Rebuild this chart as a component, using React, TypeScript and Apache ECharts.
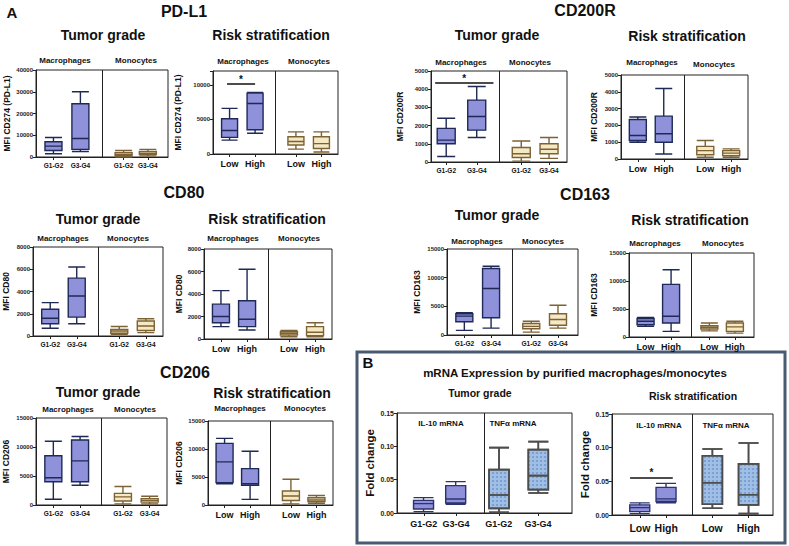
import React, { useEffect, useRef } from "react";
import * as echarts from "echarts";

const FF = '"Liberation Sans", Arial, Helvetica, sans-serif';
const N = 24; // category slots per half-panel; slot N is the divider

const gradeCats = ["G1-G2", "G3-G4"];
const riskCats = ["Low", "High"];

// box values: [min, Q1, median, Q3, max]
const pdl1GradeMac = [[1500, 3000, 5000, 7000, 9000], [2500, 3500, 8500, 24500, 30000]];
const pdl1GradeMono = [[0, 600, 1200, 2000, 3000], [500, 1200, 1800, 2600, 3500]];
const pdl1RiskMac = [[2000, 2400, 3400, 5100, 6600], [3000, 3500, 7300, 8800, 8900]];
const pdl1RiskMono = [[700, 1300, 1800, 2500, 3200], [300, 800, 1500, 2500, 3200]];

const cd200rGradeMac = [[300, 1000, 1200, 1850, 2400], [1350, 1750, 2500, 3400, 4150]];
const cd200rGradeMono = [[50, 250, 450, 800, 1150], [200, 450, 700, 1000, 1350]];
const cd200rRiskMac = [[1000, 1100, 1400, 2350, 2500], [300, 1000, 1500, 2550, 4200]];
const cd200rRiskMono = [[100, 250, 500, 750, 1100], [100, 200, 350, 500, 600]];

const cd80GradeMac = [[700, 1100, 1600, 2400, 3000], [1100, 1700, 3600, 5200, 6200]];
const cd80GradeMono = [[150, 250, 450, 600, 850], [300, 500, 900, 1350, 1550]];
const cd80RiskMac = [[1100, 1450, 2000, 3100, 4300], [800, 1100, 1750, 3400, 6200]];
const cd80RiskMono = [[200, 350, 500, 650, 750], [200, 300, 600, 1100, 1450]];

const cd163GradeMac = [[800, 2300, 3300, 3700, 3900], [1200, 3000, 8100, 11600, 12000]];
const cd163GradeMono = [[500, 1100, 1500, 2000, 2400], [1200, 1700, 2700, 3700, 5200]];
const cd163RiskMac = [[1900, 2200, 2800, 3300, 3500], [1000, 2500, 3700, 9400, 12000]];
const cd163RiskMono = [[1100, 1400, 1700, 2000, 2500], [700, 1000, 1800, 2500, 2800]];

const cd206GradeMac = [[1000, 4000, 4700, 8500, 11000], [3400, 4000, 7600, 11200, 11800]];
const cd206GradeMono = [[200, 700, 1400, 2000, 3200], [200, 500, 800, 1100, 1500]];
const cd206RiskMac = [[3800, 4000, 7700, 11000, 11900], [1000, 3500, 3800, 6500, 9600]];
const cd206RiskMono = [[200, 800, 1600, 2500, 4600], [300, 600, 900, 1300, 1700]];

const il10Grade = [[0.002, 0.006, 0.014, 0.019, 0.023], [0.013, 0.015, 0.021, 0.041, 0.047]];
const tnfGrade = [[0.001, 0.007, 0.027, 0.065, 0.098], [0.03, 0.035, 0.056, 0.095, 0.107]];
const il10Risk = [[0.002, 0.005, 0.011, 0.015, 0.018], [0.018, 0.02, 0.024, 0.041, 0.047]];
const tnfRisk = [[0.01, 0.016, 0.048, 0.088, 0.098], [0.002, 0.015, 0.03, 0.076, 0.107]];

// significance bars (y value)
const sigPdl1Risk = 10100;
const sigCd200rGrade = 4340;
const sigIl10Risk = 0.055;

// tick labels
const ticks40k = [0, 10000, 20000, 30000, 40000];
const ticks10k = [0, 5000, 10000];
const ticks5k = [0, 1000, 2000, 3000, 4000, 5000];
const ticks8k = [0, 2000, 4000, 6000, 8000];
const ticks15k = [0, 5000, 10000, 15000];
const ticksFold = [0, 0.05, 0.1, 0.15];

const macStyle = { color: "#8f91da", borderColor: "#1e2a55", borderWidth: 1.4 };
const monoStyle = { color: "#f5e9c4", borderColor: "#7d6235", borderWidth: 1.4 };
const il10Style = { color: "#8f91da", borderColor: "#2c3470", borderWidth: 1.4 };
const tnfStyle = {
  color: "#9fbfe6",
  borderColor: "#4d4d4d",
  borderWidth: 1.6,
  decal: { symbol: "circle", symbolSize: 1, dashArrayX: 1.5, dashArrayY: 1.5, color: "rgba(40,80,150,0.35)" },
};

type Panel = {
  g: number[]; yMax: number; yInt: number; ticks: number[]; dec: number;
  yName: string; gap: number; cats: string[]; cs: number; cm: number;
  slots: number[]; L: number[][]; R: number[][]; ls: any; rs: any; bw: number;
  yl: number; nf: number; sig?: { v: number; a: number; b: number };
};

const panels: Panel[] = [
  { g: [36, 70, 132, 87], yMax: 40000, yInt: 10000, ticks: ticks40k, dec: 0, yName: "MFI CD274 (PD-L1)", gap: 25, cats: gradeCats, cs: 6.5, cm: 4.5, slots: [6, 16, 7, 16], L: pdl1GradeMac, R: pdl1GradeMono, ls: macStyle, rs: monoStyle, bw: 17, yl: 6, nf: 8.5 },
  { g: [213, 71, 125, 83], yMax: 12000, yInt: 5000, ticks: ticks10k, dec: 0, yName: "MFI CD274 (PD-L1)", gap: 31, cats: riskCats, cs: 9, cm: 5.5, slots: [6, 16, 7, 17], L: pdl1RiskMac, R: pdl1RiskMono, ls: macStyle, rs: monoStyle, bw: 16, yl: 6, nf: 8.5, sig: { v: sigPdl1Risk, a: 5, b: 16 } },
  { g: [431, 71, 136, 91], yMax: 5000, yInt: 1000, ticks: ticks5k, dec: 0, yName: "MFI CD200R", gap: 27, cats: gradeCats, cs: 6.5, cm: 4.5, slots: [5, 16, 7, 17], L: cd200rGradeMac, R: cd200rGradeMono, ls: macStyle, rs: monoStyle, bw: 18, yl: 6, nf: 8.5, sig: { v: sigCd200rGrade, a: 1, b: 22 } },
  { g: [621, 75, 127, 84], yMax: 5000, yInt: 1000, ticks: ticks5k, dec: 0, yName: "MFI CD200R", gap: 23, cats: riskCats, cs: 9, cm: 5.5, slots: [6, 16, 7, 17], L: cd200rRiskMac, R: cd200rRiskMono, ls: macStyle, rs: monoStyle, bw: 17, yl: 6, nf: 8.5 },
  { g: [32, 247, 131, 89], yMax: 8000, yInt: 2000, ticks: ticks8k, dec: 0, yName: "MFI CD80", gap: 23, cats: gradeCats, cs: 6.5, cm: 4.5, slots: [6, 16, 7, 17], L: cd80GradeMac, R: cd80GradeMono, ls: macStyle, rs: monoStyle, bw: 17, yl: 6, nf: 8.5 },
  { g: [204, 249, 128, 90], yMax: 8000, yInt: 2000, ticks: ticks8k, dec: 0, yName: "MFI CD80", gap: 21, cats: riskCats, cs: 9, cm: 5.5, slots: [6, 16, 7, 17], L: cd80RiskMac, R: cd80RiskMono, ls: macStyle, rs: monoStyle, bw: 17, yl: 6, nf: 8.5 },
  { g: [447, 249, 131, 86], yMax: 15000, yInt: 5000, ticks: ticks15k, dec: 0, yName: "MFI CD163", gap: 26, cats: gradeCats, cs: 6.5, cm: 4.5, slots: [6, 16, 6, 16], L: cd163GradeMac, R: cd163GradeMono, ls: macStyle, rs: monoStyle, bw: 17, yl: 6, nf: 8.5 },
  { g: [629, 253, 125, 84], yMax: 15000, yInt: 5000, ticks: ticks15k, dec: 0, yName: "MFI CD163", gap: 31, cats: riskCats, cs: 9, cm: 5.5, slots: [6, 16, 6, 16], L: cd163RiskMac, R: cd163RiskMono, ls: macStyle, rs: monoStyle, bw: 17, yl: 6, nf: 8.5 },
  { g: [35, 418, 132, 87], yMax: 15000, yInt: 5000, ticks: ticks15k, dec: 0, yName: "MFI CD206", gap: 26, cats: gradeCats, cs: 6.5, cm: 4.5, slots: [6, 16, 7, 17], L: cd206GradeMac, R: cd206GradeMono, ls: macStyle, rs: monoStyle, bw: 17, yl: 6, nf: 8.5 },
  { g: [208, 421, 125, 84], yMax: 15000, yInt: 5000, ticks: ticks15k, dec: 0, yName: "MFI CD206", gap: 25, cats: riskCats, cs: 9, cm: 5.5, slots: [6, 16, 7, 17], L: cd206RiskMac, R: cd206RiskMono, ls: macStyle, rs: monoStyle, bw: 17, yl: 6, nf: 8.5 },
  { g: [397, 413, 175, 100], yMax: 0.15, yInt: 0.05, ticks: ticksFold, dec: 2, yName: "Fold change", gap: 19, cats: gradeCats, cs: 9, cm: 6.5, slots: [7, 16, 3, 14], L: il10Grade, R: tnfGrade, ls: il10Style, rs: tnfStyle, bw: 20, yl: 7, nf: 11.5 },
  { g: [612, 414, 161, 101], yMax: 0.15, yInt: 0.05, ticks: ticksFold, dec: 2, yName: "Fold change", gap: 19, cats: riskCats, cs: 10.5, cm: 7, slots: [8, 16, 5, 16], L: il10Risk, R: tnfRisk, ls: il10Style, rs: tnfStyle, bw: 20, yl: 7, nf: 11.5, sig: { v: sigIl10Risk, a: 5, b: 18 } },
];

const txt = (text: string, x: number, y: number, size: number, weight = "bold", color = "#111") => ({
  type: "text",
  x,
  y,
  silent: true,
  style: { text, font: `${weight} ${size}px ${FF}`, fill: color, textAlign: "center", textVerticalAlign: "middle" },
});

function buildOption() {
  const grid: any[] = [];
  const xAxis: any[] = [];
  const yAxis: any[] = [];
  const series: any[] = [];
  const R0 = N + 1; // first slot of the right half
  panels.forEach((p, i) => {
    grid.push({ left: p.g[0], top: p.g[1], width: p.g[2], height: p.g[3], show: true, borderColor: "#222", borderWidth: 1, backgroundColor: "transparent" });
    const labelAt: Record<number, string> = {};
    labelAt[p.slots[0]] = p.cats[0];
    labelAt[p.slots[1]] = p.cats[1];
    labelAt[R0 + p.slots[2]] = p.cats[0];
    labelAt[R0 + p.slots[3]] = p.cats[1];
    const tickSet = new Set([p.slots[0], p.slots[1], R0 + p.slots[2], R0 + p.slots[3]]);
    xAxis.push({
      gridIndex: i,
      type: "category",
      data: Array.from({ length: 2 * N + 1 }, (_, k) => "s" + k),
      axisLine: { show: true, lineStyle: { color: "#222", width: 1 } },
      axisTick: { show: true, alignWithLabel: true, length: 3, interval: (k: number) => tickSet.has(k), lineStyle: { color: "#222" } },
      axisLabel: { interval: 0, margin: p.cm, fontFamily: FF, fontWeight: "bold", fontSize: p.cs, color: "#111", formatter: (_v: string, k: number) => labelAt[k] || "" },
      splitLine: { show: false },
    });
    yAxis.push({
      gridIndex: i,
      type: "value",
      min: 0,
      max: p.yMax,
      interval: p.yInt,
      name: p.yName,
      nameLocation: "middle",
      nameGap: p.gap,
      nameTextStyle: { fontFamily: FF, fontWeight: "bold", fontSize: p.nf, color: "#111" },
      axisLine: { show: true, lineStyle: { color: "#222", width: 1 } },
      axisTick: { show: true, length: 3, lineStyle: { color: "#222" } },
      axisLabel: {
        fontFamily: FF, fontWeight: "bold", fontSize: p.yl, color: "#222", margin: 3,
        formatter: (v: number) => (p.ticks.some((t) => Math.abs(t - v) < 1e-9) ? (p.dec ? v.toFixed(p.dec) : String(v)) : ""),
      },
      splitLine: { show: false },
    });
    const markData: any[] = [
      { xAxis: N, label: { show: false }, lineStyle: { color: "#222", width: 1, type: "solid" } },
    ];
    if (p.sig) {
      markData.push([
        { coord: [p.sig.a, p.sig.v], lineStyle: { color: "#111", width: 1.5, type: "solid" } },
        { coord: [p.sig.b, p.sig.v] },
      ]);
    }
    series.push({
      type: "boxplot",
      xAxisIndex: i,
      yAxisIndex: i,
      encode: { x: 0, y: [1, 2, 3, 4, 5] },
      data: p.L.map((v, j) => [p.slots[j], ...v]),
      boxWidth: [p.bw, p.bw],
      itemStyle: p.ls,
      silent: true,
      markLine: {
        silent: true,
        symbol: ["none", "none"],
        lineStyle: { color: "#111", width: 1.5, type: "solid" },
        label: { show: true, formatter: "*", position: "insideMiddleTop", distance: 0, fontSize: 10, fontWeight: "bold", color: "#111", fontFamily: FF },
        data: markData,
      },
    });
    series.push({
      type: "boxplot",
      xAxisIndex: i,
      yAxisIndex: i,
      encode: { x: 0, y: [1, 2, 3, 4, 5] },
      data: p.R.map((v, j) => [R0 + p.slots[2 + j], ...v]),
      boxWidth: [p.bw, p.bw],
      itemStyle: p.rs,
      silent: true,
    });
  });

  const graphic: any[] = [
    { type: "rect", silent: true, shape: { x: 357, y: 352, width: 428, height: 191 }, style: { fill: "none", stroke: "#4a5a72", lineWidth: 3 } },
    txt("A", 12, 12, 15),
    txt("PD-L1", 184, 11, 16),
    txt("CD200R", 585, 10, 16),
    txt("CD80", 184, 192, 16),
    txt("CD163", 585, 194, 16),
    txt("CD206", 185, 372, 16),
    txt("B", 368, 362, 15),
    txt("Tumor grade", 103, 35, 14),
    txt("Risk stratification", 271, 35, 14),
    txt("Tumor grade", 497, 35, 14),
    txt("Risk stratification", 687, 36, 14),
    txt("Tumor grade", 98, 219, 14),
    txt("Risk stratification", 267, 219, 14),
    txt("Tumor grade", 497, 215, 14),
    txt("Risk stratification", 690, 220, 14),
    txt("Tumor grade", 98, 392, 14),
    txt("Risk stratification", 272, 393, 14),
    txt("mRNA Expression by purified macrophages/monocytes", 575, 373, 11.5),
    txt("Tumor grade", 480, 393, 10.5),
    txt("Risk stratification", 693, 396, 10.5),
    txt("IL-10 mRNA", 441, 423, 8),
    txt("TNFα mRNA", 513, 423, 8),
    txt("IL-10 mRNA", 659, 425, 8),
    txt("TNFα mRNA", 726, 425, 8),
  ];
  const subs: number[][] = [
    [65, 60, 136, 60], [243, 61, 309, 61], [461, 62, 530, 62], [652, 62, 714, 64],
    [63, 238, 128, 238], [233, 238, 299, 238], [477, 241, 543, 241], [655, 243, 723, 243],
    [68, 409, 135, 409], [240, 408, 305, 408],
  ];
  subs.forEach((s) => {
    graphic.push(txt("Macrophages", s[0], s[1], 8));
    graphic.push(txt("Monocytes", s[2], s[3], 8));
  });

  return {
    animation: false,
    backgroundColor: "#ffffff",
    textStyle: { fontFamily: FF },
    grid,
    xAxis,
    yAxis,
    series,
    graphic,
  };
}

export default function App() {
  const ref = useRef<HTMLDivElement>(null);
  useEffect(() => {
    if (!ref.current) return;
    const chart = echarts.init(ref.current, undefined, { renderer: "svg" });
    chart.setOption(buildOption() as any);
    return () => chart.dispose();
  }, []);
  return <div ref={ref} style={{ position: "absolute", left: 0, top: 0, width: 789, height: 546 }} />;
}
